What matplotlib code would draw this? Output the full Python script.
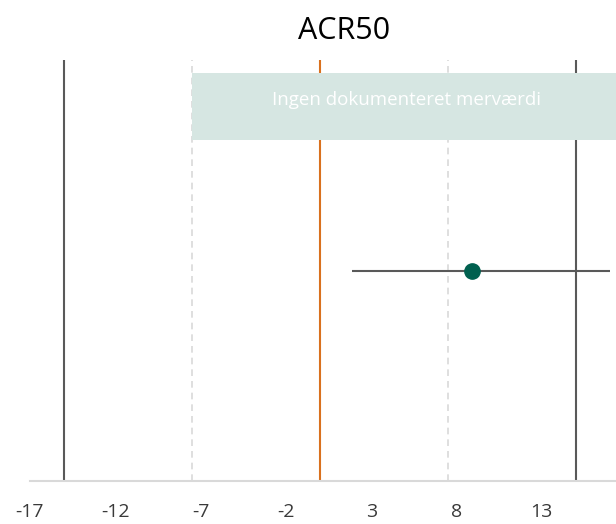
import matplotlib.pyplot as plt

# values
endpoint = "ACR50"
estimate = [8.9]
ci_low = [1.9]
ci_high = [17.0]
y_pos = [0.5]
limits = [-15, 15]          # solid dark lines
dashed = [-7.5, 7.5]        # light dashed lines
null_line = 0
band_x = [-7.5, 18]
band_label = "Ingen dokumenteret merværdi"
ticks = [-17, -12, -7, -2, 3, 8, 13]

plt.rcParams["font.family"] = ["Open Sans", "DejaVu Sans"]
plt.rcParams["axes.unicode_minus"] = False

fig = plt.figure(figsize=(6.16, 5.24), dpi=100)
# axes intentionally run past the right edge like the cropped original
ax = fig.add_axes([30 / 616, 43 / 524, 597 / 616, 421 / 524])
ax.set_xlim(-17, 18)
ax.set_ylim(0, 1)

ax.axvspan(band_x[0], band_x[1], ymin=0.81, ymax=0.97, color="#d6e6e2", lw=0, zorder=1)
ax.text(0.5 * (band_x[0] + 17.6), 0.905, band_label, color="white",
        ha="center", va="center", fontsize=13.5, zorder=2)

for v in limits:
    ax.axvline(v, color="#595959", lw=1.5, zorder=0)
for v in dashed:
    ax.axvline(v, color="#d9d9d9", lw=1.2, ls=(0, (4, 3)), zorder=0)
ax.axvline(null_line, color="#d9711e", lw=1.5, zorder=0)

ax.hlines(y_pos, ci_low, ci_high, color="#595959", lw=1.5, zorder=3)
ax.plot(estimate, y_pos, "o", color="#00604f", ms=11, zorder=4)

for s in ["top", "left", "right"]:
    ax.spines[s].set_visible(False)
ax.spines["bottom"].set_color("#d9d9d9")
ax.spines["bottom"].set_linewidth(1.5)
ax.set_yticks([])
ax.set_xticks(ticks)
ax.tick_params(axis="x", length=0, pad=16, labelsize=14, labelcolor="#3a3a3a")

fig.text(344 / 616, 1 - 31 / 524, endpoint, ha="center", va="center", fontsize=22)

plt.savefig("out.png", dpi=100)
